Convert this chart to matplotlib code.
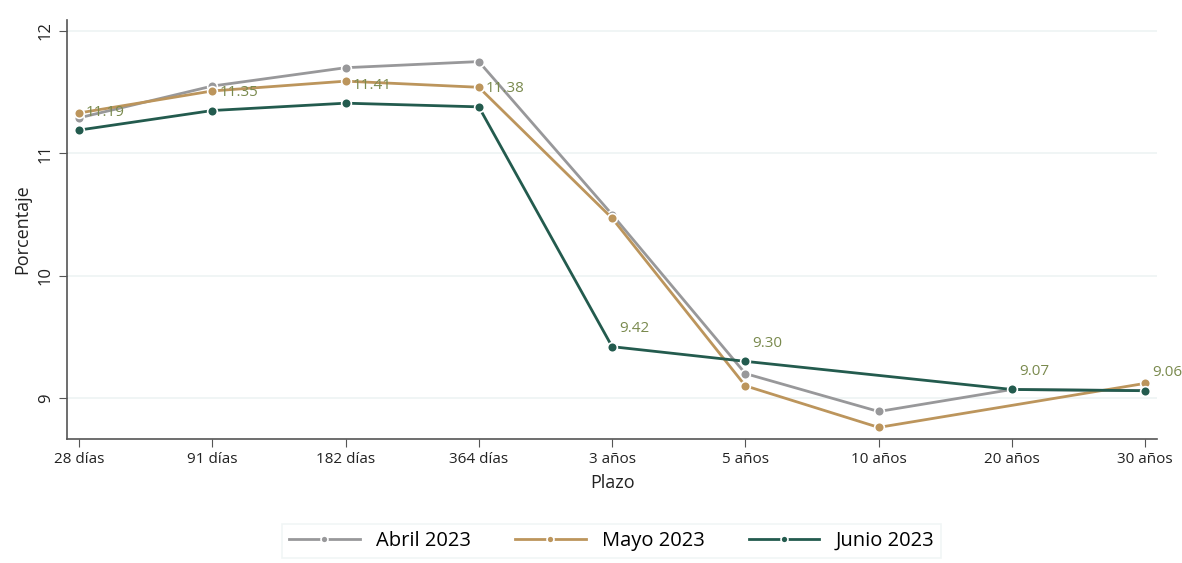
import numpy as np
import matplotlib.pyplot as plt

plt.rcParams['font.family'] = ['Open Sans', 'DejaVu Sans']

# Datos
plazos = ['28 días', '91 días', '182 días', '364 días', '3 años',
          '5 años', '10 años', '20 años', '30 años']
abril = [11.29, 11.55, 11.70, 11.75, 10.50, 9.20, 8.89, 9.07, 9.06]
mayo = [11.33, 11.51, 11.59, 11.54, 10.47, 9.10, 8.76, np.nan, 9.12]
junio = [11.19, 11.35, 11.41, 11.38, 9.42, 9.30, np.nan, 9.07, 9.06]

COLOR_ABRIL = '#98989A'
COLOR_MAYO = '#BC955C'
COLOR_JUNIO = '#235B4E'
COLOR_ETIQ = '#7A8A4E'

fig = plt.figure(figsize=(11.82, 5.63), dpi=100)
ax = fig.add_axes([0.0567, 0.2202, 0.9223, 0.7443])

x = np.arange(len(plazos))


def serie(vals, color, label):
    v = np.array(vals, dtype=float)
    m = ~np.isnan(v)
    ax.plot(x[m], v[m], color=color, lw=2, marker='o', ms=7,
            markeredgecolor='white', markeredgewidth=1.2, label=label,
            zorder=3)


serie(abril, COLOR_ABRIL, 'Abril 2023')
serie(mayo, COLOR_MAYO, 'Mayo 2023')
serie(junio, COLOR_JUNIO, 'Junio 2023')

# Etiquetas de Junio
for xi, yi in zip(x, junio):
    if np.isnan(yi):
        continue
    ax.annotate(f'{yi:.2f}', (xi, yi), xytext=(5, 13), textcoords='offset points',
                ha='left', va='center', fontsize=11, color=COLOR_ETIQ,
                annotation_clip=False, zorder=4)

ax.set_xlim(-0.09, 8.09)
ax.set_ylim(8.665, 12.09)
ax.set_yticks([9, 10, 11, 12])
ax.set_yticklabels(['9', '10', '11', '12'], rotation=90, va='center', fontsize=12)
ax.set_xticks(x)
ax.set_xticklabels(plazos, fontsize=11)
ax.yaxis.grid(True, color='#EEF3F3', lw=1.2)
ax.set_axisbelow(True)

for s in ['top', 'right']:
    ax.spines[s].set_visible(False)
for s in ['left', 'bottom']:
    ax.spines[s].set_color('#555555')
    ax.spines[s].set_linewidth(1.2)
ax.tick_params(direction='out', length=6, color='#555555', labelcolor='#222222')

ax.set_xlabel('Plazo', fontsize=13, color='#222222', labelpad=5)
ax.set_ylabel('Porcentaje', fontsize=13, color='#222222', labelpad=5)

leg = fig.legend(loc='center', bbox_to_anchor=(0.5175, 0.039), ncol=3,
                 fontsize=14.5, frameon=True, fancybox=False,
                 handlelength=3.5, columnspacing=2.2, borderpad=0.35)
leg.get_frame().set_edgecolor('#EEF3F3')
leg.get_frame().set_linewidth(1.2)
for h in leg.get_lines():
    h.set_markersize(5)

fig.savefig('out.png', dpi=100)
